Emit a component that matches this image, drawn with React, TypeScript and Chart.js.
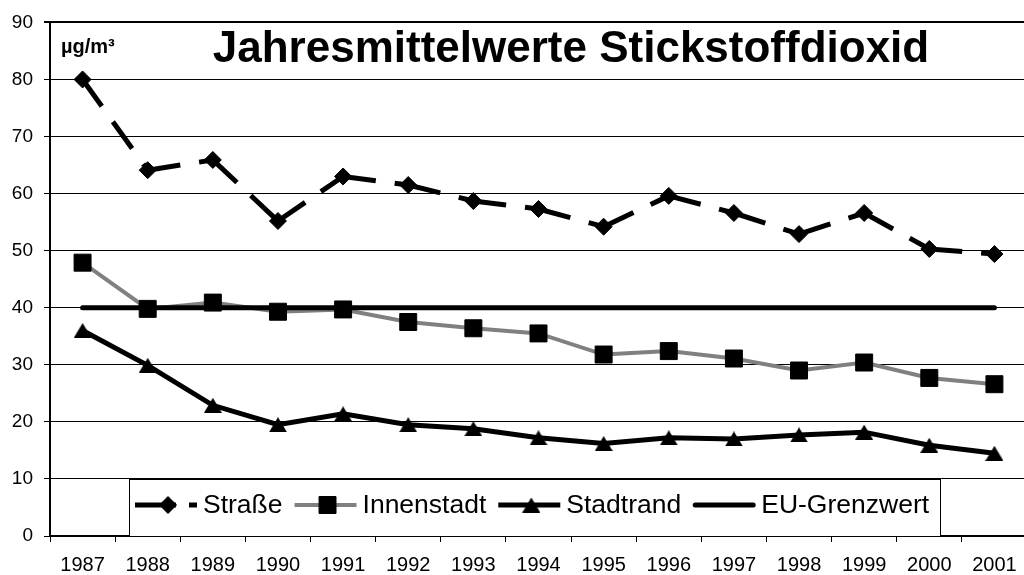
import React, { useEffect, useRef } from "react";
import { Chart, registerables } from "chart.js";
import { drawPoint } from "chart.js/helpers";

Chart.register(...registerables);

const FONT = "'Liberation Sans', Arial, Helvetica, sans-serif";

// Jahresmittelwerte NO2 in µg/m³
const years = [
  "1987", "1988", "1989", "1990", "1991", "1992", "1993", "1994",
  "1995", "1996", "1997", "1998", "1999", "2000", "2001",
];
const strasse = [80, 64.1, 65.9, 55.2, 63.0, 61.5, 58.7, 57.3, 54.2, 59.6, 56.6, 52.9, 56.6, 50.3, 49.4];
const innenstadt = [47.9, 39.8, 40.9, 39.3, 39.7, 37.5, 36.4, 35.5, 31.8, 32.4, 31.1, 29.0, 30.4, 27.7, 26.6];
const stadtrand = [36.0, 29.9, 22.9, 19.5, 21.4, 19.5, 18.8, 17.2, 16.2, 17.2, 17.0, 17.7, 18.2, 15.9, 14.5];
const grenzwert = [40, 40, 40, 40, 40, 40, 40, 40, 40, 40, 40, 40, 40, 40, 40];

const seriesLabels = ["Straße", "Innenstadt", "Stadtrand", "EU-Grenzwert"];
const yMin = 0;
const yMax = 90;
const yStep = 10;

const titleText = "Jahresmittelwerte Stickstoffdioxid";
const unitText = "µg/m³";

// Triangle marker centred on its bounding box
function makeTriangle(w: number, h: number): HTMLCanvasElement {
  const c = document.createElement("canvas");
  c.width = w;
  c.height = h;
  const g = c.getContext("2d")!;
  g.fillStyle = "#000";
  g.beginPath();
  g.moveTo(w / 2, 0);
  g.lineTo(w, h);
  g.lineTo(0, h);
  g.closePath();
  g.fill();
  return c;
}

const titlePlugin = {
  id: "titleAndUnit",
  afterDraw(chart: any) {
    const ctx = chart.ctx;
    ctx.save();
    ctx.fillStyle = "#000";
    ctx.textBaseline = "alphabetic";
    ctx.textAlign = "center";
    ctx.font = `bold 44px ${FONT}`;
    ctx.fillText(titleText, 571, 62);
    ctx.textAlign = "left";
    ctx.font = `bold 20px ${FONT}`;
    ctx.fillText(unitText, 61, 53);
    ctx.restore();
  },
};

// Legend drawn as a framed box inside the plot, along the bottom band
const boxLegendPlugin = {
  id: "boxLegend",
  afterDraw(chart: any) {
    const ctx = chart.ctx;
    const yScale = chart.scales.y;
    const top = Math.round(yScale.getPixelForValue(10));
    const bottom = Math.round(chart.chartArea.bottom);
    const left = 129;
    const right = 940;
    ctx.save();
    ctx.fillStyle = "#fff";
    ctx.fillRect(left, top, right - left, bottom - top);
    ctx.strokeStyle = "#000";
    ctx.lineWidth = 1;
    ctx.strokeRect(left + 0.5, top + 0.5, right - left, bottom - top);

    const cy = 505;
    const sampleLen = 62;
    let x = 135;
    ctx.font = `26.5px ${FONT}`;
    ctx.textBaseline = "middle";
    ctx.textAlign = "left";
    chart.data.datasets.forEach((ds: any) => {
      const round = ds.borderCapStyle === "round";
      ctx.save();
      ctx.strokeStyle = ds.borderColor;
      ctx.lineWidth = ds.borderWidth;
      ctx.lineCap = round ? "round" : "butt";
      ctx.setLineDash(ds.borderDash ? [41, 13] : []);
      ctx.beginPath();
      ctx.moveTo(x + (round ? 2 : 0), cy);
      ctx.lineTo(x + sampleLen - (round ? 2 : 0), cy);
      ctx.stroke();
      ctx.setLineDash([]);
      if (ds.pointRadius > 0) {
        ctx.fillStyle = ds.pointBackgroundColor;
        ctx.strokeStyle = ds.pointBorderColor;
        ctx.lineWidth = ds.pointBorderWidth;
        drawPoint(ctx, {
          pointStyle: ds.pointStyle,
          rotation: 0,
          radius: ds.pointRadius,
          borderWidth: ds.pointBorderWidth,
        } as any, x + sampleLen / 2 + 2, cy);
      }
      ctx.restore();
      ctx.fillStyle = "#000";
      const tx = x + sampleLen + 6;
      ctx.fillText(ds.label, tx, cy + 1);
      x = tx + ctx.measureText(ds.label).width + 12;
    });
    ctx.restore();
  },
};

export default function App() {
  const canvasRef = useRef<HTMLCanvasElement | null>(null);

  useEffect(() => {
    const canvas = canvasRef.current;
    if (!canvas) return;
    const triangle = makeTriangle(18, 15);

    const chart = new Chart(canvas, {
      type: "line",
      data: {
        labels: years,
        datasets: [
          {
            label: seriesLabels[0],
            data: strasse,
            borderColor: "#000",
            borderWidth: 5,
            borderDash: [33, 19],
            borderCapStyle: "butt",
            pointStyle: "rectRot",
            pointRadius: 8.5,
            pointBackgroundColor: "#000",
            pointBorderColor: "#000",
            pointBorderWidth: 1,
            tension: 0,
            order: 4,
            // restart the dash pattern on every segment
            segment: {
              borderDashOffset: (c: any) => (c.p0DataIndex % 2 ? 0.01 : 0),
            },
          },
          {
            label: seriesLabels[1],
            data: innenstadt,
            borderColor: "#808080",
            borderWidth: 4,
            pointStyle: "rect",
            pointRadius: 12,
            pointBackgroundColor: "#000",
            pointBorderColor: "#000",
            pointBorderWidth: 1,
            tension: 0,
            order: 3,
          },
          {
            label: seriesLabels[2],
            data: stadtrand,
            borderColor: "#000",
            borderWidth: 5,
            pointStyle: triangle,
            pointRadius: 9,
            pointBackgroundColor: "#000",
            pointBorderColor: "#000",
            pointBorderWidth: 1,
            tension: 0,
            order: 2,
          },
          {
            label: seriesLabels[3],
            data: grenzwert,
            borderColor: "#000",
            borderWidth: 5,
            borderCapStyle: "round",
            pointRadius: 0,
            pointBackgroundColor: "#000",
            pointBorderColor: "#000",
            pointBorderWidth: 0,
            tension: 0,
            order: 1,
          },
        ] as any,
      },
      options: {
        responsive: false,
        animation: false,
        devicePixelRatio: 1,
        layout: { padding: { top: 21, right: 8, left: 0, bottom: 0 } },
        plugins: {
          legend: { display: false },
          tooltip: { enabled: false },
          title: { display: false },
        },
        scales: {
          x: {
            type: "category",
            offset: true,
            grid: {
              display: true,
              offset: true,
              drawOnChartArea: false,
              drawTicks: true,
              tickLength: 6,
              color: "#000",
              lineWidth: 1,
            },
            border: { display: true, color: "#000", width: 2 },
            ticks: {
              color: "#000",
              font: { family: FONT, size: 20 },
              padding: 11,
              maxRotation: 0,
              autoSkip: false,
            },
            afterFit: (s: any) => {
              s.height = 39;
            },
          },
          y: {
            min: yMin,
            max: yMax,
            ticks: {
              stepSize: yStep,
              color: "#000",
              font: { family: FONT, size: 19 },
              padding: 11,
            },
            grid: {
              color: "#000",
              lineWidth: (c: any) => (c.tick && c.tick.value === yMax ? 2 : 1),
              drawTicks: true,
              tickLength: 6,
            },
            border: { display: true, color: "#000", width: 2 },
            afterFit: (s: any) => {
              s.width = 50;
            },
          },
        },
      } as any,
      plugins: [boxLegendPlugin, titlePlugin],
    });

    return () => chart.destroy();
  }, []);

  return (
    <div
      style={{
        position: "fixed",
        left: 0,
        top: 0,
        width: 1024,
        height: 575,
        overflow: "hidden",
        background: "#fff",
      }}
    >
      <canvas ref={canvasRef} width={1040} height={575} style={{ display: "block" }} />
    </div>
  );
}
